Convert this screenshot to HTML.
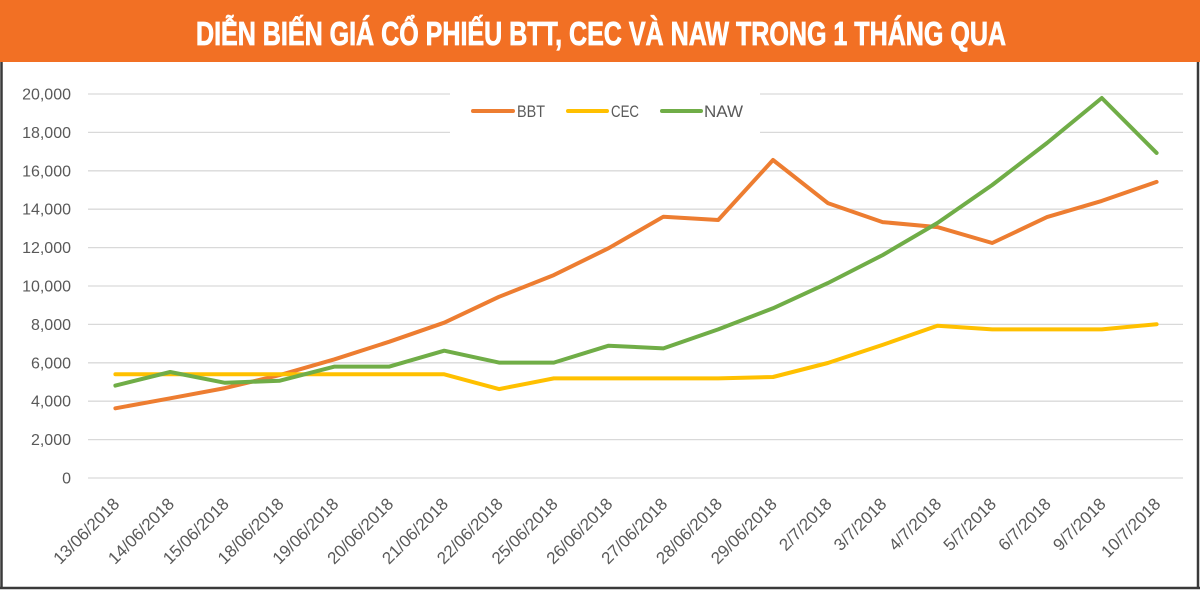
<!DOCTYPE html>
<html>
<head>
<meta charset="utf-8">
<style>
  html,body{margin:0;padding:0;background:#fff;}
  body{width:1200px;height:591px;overflow:hidden;}
  svg{display:block;}
</style>
</head>
<body>
<svg width="1200" height="591" viewBox="0 0 1200 591" xmlns="http://www.w3.org/2000/svg">
  <rect x="0" y="0" width="1200" height="591" fill="#ffffff"/>
  <!-- header -->
  <rect x="0" y="0" width="1200" height="62" fill="#f27024"/>
  <text x="196" y="45" font-family="Liberation Sans, sans-serif" font-weight="bold" font-size="33" fill="#ffffff" stroke="#ffffff" stroke-width="0.8" textLength="810" lengthAdjust="spacingAndGlyphs">DIỄN BIẾN GIÁ CỔ PHIẾU BTT, CEC VÀ NAW TRONG 1 THÁNG QUA</text>

  <!-- frame -->
  <line x1="1.5" y1="62" x2="1.5" y2="589" stroke="#3a3a3a" stroke-width="2.5"/>
  <line x1="1198" y1="62" x2="1198" y2="589" stroke="#3a3a3a" stroke-width="2.5"/>
  <line x1="0" y1="588" x2="1200" y2="588" stroke="#3a3a3a" stroke-width="2.5"/>

  <!-- gridlines -->
  <g stroke="#d9d9d9" stroke-width="1.3">
    <line x1="88" y1="478" x2="1183" y2="478"/>
    <line x1="88" y1="439.6" x2="1183" y2="439.6"/>
    <line x1="88" y1="401.2" x2="1183" y2="401.2"/>
    <line x1="88" y1="362.8" x2="1183" y2="362.8"/>
    <line x1="88" y1="324.4" x2="1183" y2="324.4"/>
    <line x1="88" y1="286" x2="1183" y2="286"/>
    <line x1="88" y1="247.6" x2="1183" y2="247.6"/>
    <line x1="88" y1="209.2" x2="1183" y2="209.2"/>
    <line x1="88" y1="170.8" x2="1183" y2="170.8"/>
    <line x1="88" y1="132.4" x2="1183" y2="132.4"/>
    <line x1="88" y1="94" x2="1183" y2="94"/>
  </g>

  <!-- y labels -->
  <g font-family="Liberation Sans, sans-serif" font-size="16" fill="#595959" text-anchor="end">
    <text x="71" y="483.5">0</text>
    <text x="71" y="445.1">2,000</text>
    <text x="71" y="406.7">4,000</text>
    <text x="71" y="368.3">6,000</text>
    <text x="71" y="329.9">8,000</text>
    <text x="71" y="291.5">10,000</text>
    <text x="71" y="253.1">12,000</text>
    <text x="71" y="214.7">14,000</text>
    <text x="71" y="176.3">16,000</text>
    <text x="71" y="137.9">18,000</text>
    <text x="71" y="99.5">20,000</text>
  </g>

  <!-- x labels -->
  <g font-family="Liberation Sans, sans-serif" font-size="17" fill="#595959" text-anchor="end">
    <text transform="translate(120.4,505) rotate(-45)">13/06/2018</text>
    <text transform="translate(175.2,505) rotate(-45)">14/06/2018</text>
    <text transform="translate(230.0,505) rotate(-45)">15/06/2018</text>
    <text transform="translate(284.8,505) rotate(-45)">18/06/2018</text>
    <text transform="translate(339.6,505) rotate(-45)">19/06/2018</text>
    <text transform="translate(394.4,505) rotate(-45)">20/06/2018</text>
    <text transform="translate(449.2,505) rotate(-45)">21/06/2018</text>
    <text transform="translate(504.0,505) rotate(-45)">22/06/2018</text>
    <text transform="translate(558.8,505) rotate(-45)">25/06/2018</text>
    <text transform="translate(613.6,505) rotate(-45)">26/06/2018</text>
    <text transform="translate(668.4,505) rotate(-45)">27/06/2018</text>
    <text transform="translate(723.2,505) rotate(-45)">28/06/2018</text>
    <text transform="translate(778.0,505) rotate(-45)">29/06/2018</text>
    <text transform="translate(832.8,505) rotate(-45)">2/7/2018</text>
    <text transform="translate(887.6,505) rotate(-45)">3/7/2018</text>
    <text transform="translate(942.4,505) rotate(-45)">4/7/2018</text>
    <text transform="translate(997.2,505) rotate(-45)">5/7/2018</text>
    <text transform="translate(1052.0,505) rotate(-45)">6/7/2018</text>
    <text transform="translate(1106.8,505) rotate(-45)">9/7/2018</text>
    <text transform="translate(1161.6,505) rotate(-45)">10/7/2018</text>
  </g>

  <!-- legend background -->
  <rect x="450" y="90" width="310" height="46" fill="#ffffff"/>

  <!-- series -->
  <g fill="none" stroke-width="4" stroke-linejoin="round" stroke-linecap="round">
    <polyline stroke="#ed7d31" points="115.4,408.3 170.2,398.3 225.0,388.1 279.8,375.1 334.6,359.3 389.4,341.7 444.2,322.7 499.0,296.8 553.8,275.1 608.6,248.2 663.4,216.7 718.2,220.0 773.0,160.0 827.8,203.1 882.6,222.1 937.4,227.1 992.2,243.0 1047.0,217.1 1101.8,200.9 1156.6,181.9"/>
    <polyline stroke="#ffc000" points="115.4,374.3 170.2,374.3 225.0,374.3 279.8,374.3 334.6,374.3 389.4,374.3 444.2,374.3 499.0,389.1 553.8,378.4 608.6,378.4 663.4,378.4 718.2,378.4 773.0,377.0 827.8,363.0 882.6,344.9 937.4,325.7 992.2,329.4 1047.0,329.4 1101.8,329.4 1156.6,324.2"/>
    <polyline stroke="#70ad47" points="115.4,385.6 170.2,372.0 225.0,382.8 279.8,380.7 334.6,366.6 389.4,366.6 444.2,350.7 499.0,362.6 553.8,362.6 608.6,345.7 663.4,348.4 718.2,329.4 773.0,308.3 827.8,283.1 882.6,255.1 937.4,223.0 992.2,185.0 1047.0,143.0 1101.8,98.0 1156.6,152.9"/>
  </g>

  <!-- legend -->
  <g stroke-width="4" stroke-linecap="round">
    <line x1="473" y1="111" x2="513" y2="111" stroke="#ed7d31"/>
    <line x1="568" y1="111" x2="607" y2="111" stroke="#ffc000"/>
    <line x1="662" y1="111" x2="701" y2="111" stroke="#70ad47"/>
  </g>
  <g font-family="Liberation Sans, sans-serif" font-size="17" fill="#595959">
    <text x="517" y="117" textLength="28" lengthAdjust="spacingAndGlyphs">BBT</text>
    <text x="611" y="117" textLength="28" lengthAdjust="spacingAndGlyphs">CEC</text>
    <text x="704" y="117" textLength="39" lengthAdjust="spacingAndGlyphs">NAW</text>
  </g>
</svg>
</body>
</html>
